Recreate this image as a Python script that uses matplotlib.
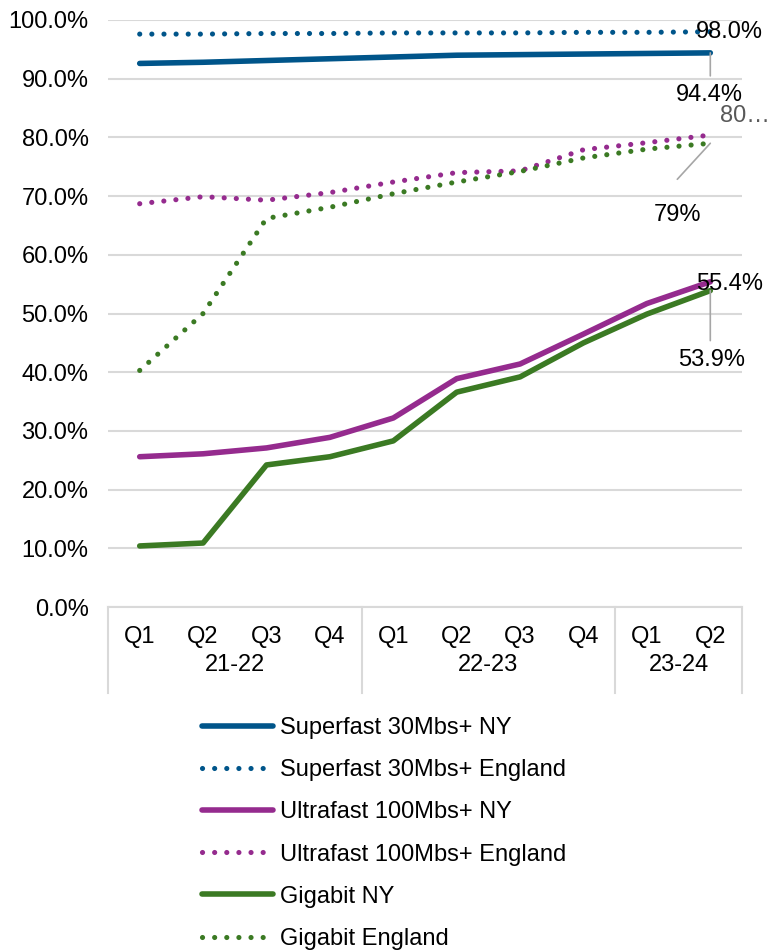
import matplotlib
matplotlib.use("Agg")
import matplotlib.pyplot as plt
import matplotlib.transforms as mtransforms

plt.rcParams["font.family"] = ["Liberation Sans", "DejaVu Sans"]
plt.rcParams["font.size"] = 17

# Quarterly coverage (%) by financial year
quarters = ["Q1", "Q2", "Q3", "Q4", "Q1", "Q2", "Q3", "Q4", "Q1", "Q2"]
years = ["21-22", "22-23", "23-24"]
quarters_per_year = [4, 4, 2]

superfast_ny = [92.6, 92.8, 93.1, 93.4, 93.7, 94.0, 94.1, 94.2, 94.3, 94.4]
superfast_eng = [97.6, 97.6, 97.7, 97.7, 97.8, 97.8, 97.8, 97.9, 97.9, 98.0]
ultrafast_ny = [25.6, 26.1, 27.1, 28.9, 32.2, 38.9, 41.4, 46.5, 51.7, 55.4]
ultrafast_eng = [68.7, 69.9, 69.3, 70.6, 72.4, 74.0, 74.3, 77.9, 79.1, 80.4]
gigabit_ny = [10.4, 10.9, 24.2, 25.6, 28.3, 36.6, 39.2, 45.0, 49.9, 53.9]
gigabit_eng = [40.3, 50.0, 66.2, 68.1, 70.4, 72.4, 74.2, 76.5, 78.0, 79.0]

BLUE = "#00558a"
PURPLE = "#952b8e"
GREEN = "#3b7a23"
GRID = "#d9d9d9"
LEADER = "#a6a6a6"

series = [
    ("Superfast 30Mbs+ NY", superfast_ny, BLUE, "solid"),
    ("Superfast 30Mbs+ England", superfast_eng, BLUE, "dot"),
    ("Ultrafast 100Mbs+ NY", ultrafast_ny, PURPLE, "solid"),
    ("Ultrafast 100Mbs+ England", ultrafast_eng, PURPLE, "dot"),
    ("Gigabit NY", gigabit_ny, GREEN, "solid"),
    ("Gigabit England", gigabit_eng, GREEN, "dot"),
]

fig = plt.figure(figsize=(7.7, 9.52), dpi=100)
ax = fig.add_axes([108 / 770, 1 - 607 / 952, 634 / 770, 587 / 952])

x = list(range(len(quarters)))
handles = []
for label, vals, color, style in series:
    y = [v / 100 for v in vals]
    if style == "solid":
        ln, = ax.plot(x, y, color=color, lw=4.0, solid_capstyle="round",
                      solid_joinstyle="round", label=label, zorder=3)
    else:
        ln, = ax.plot(x, y, color=color, lw=3.7, linestyle=(0, (0.01, 2.35)),
                      dash_capstyle="round", label=label, zorder=3)
    handles.append(ln)

ax.set_xlim(-0.5, len(quarters) - 0.5)
ax.set_ylim(0, 1.0)
ax.set_yticks([i / 10 for i in range(11)])
ax.set_yticklabels([f"{i * 10:.1f}%" for i in range(11)])
ax.yaxis.grid(True, color=GRID, lw=1.5)
ax.set_axisbelow(True)
ax.tick_params(axis="y", length=0, pad=14)
ax.set_xticks(x)
ax.set_xticklabels(quarters)
ax.tick_params(axis="x", length=0, pad=14)
for side in ("left", "right", "top"):
    ax.spines[side].set_visible(False)
ax.spines["bottom"].set_color(GRID)
ax.spines["bottom"].set_linewidth(1.5)

# Financial-year grouping under the quarter labels
blend = mtransforms.blended_transform_factory(ax.transData, ax.transAxes)
sep_depth = -86 / 587
start = -0.5
edges = [start]
for name, n in zip(years, quarters_per_year):
    ax.text(start + n / 2, -58 / 587, name, transform=blend,
            ha="center", va="center")
    start += n
    edges.append(start)
for e in edges:
    ax.plot([e, e], [0, sep_depth], transform=blend, color=GRID, lw=1.5,
            clip_on=False)

# End-of-series value labels
last = len(quarters) - 1


def leader(val, dx, dy):
    ax.annotate("", xy=(last, val / 100), xycoords="data",
                xytext=(dx, dy), textcoords="offset pixels",
                arrowprops=dict(arrowstyle="-", color=LEADER, lw=1.2,
                                shrinkA=0, shrinkB=0))


def value_label(val, text, dx, dy, ha="center", color="black"):
    ax.annotate(text, xy=(last, val / 100), xycoords="data",
                xytext=(dx, dy), textcoords="offset pixels",
                ha=ha, va="center", color=color, zorder=5)


value_label(superfast_eng[-1], f"{superfast_eng[-1]:.1f}%", 19, 0)
leader(superfast_ny[-1], 0, -23)
value_label(superfast_ny[-1], f"{superfast_ny[-1]:.1f}%", -1, -42)
value_label(ultrafast_eng[-1], f"{ultrafast_eng[-1]:.0f}"[:2] + "\u2026",
            10, 19, ha="left", color="#595959")
leader(gigabit_eng[-1], -33, -36)
value_label(gigabit_eng[-1], f"{gigabit_eng[-1]:.0f}%", -33, -72)
value_label(ultrafast_ny[-1], f"{ultrafast_ny[-1]:.1f}%", 19, -2)
leader(gigabit_ny[-1], 0, -50)
value_label(gigabit_ny[-1], f"{gigabit_ny[-1]:.1f}%", 1, -69)

fig.legend(handles=handles, loc="upper left",
           bbox_to_anchor=(202 / 770, 1 - 717 / 952),
           frameon=False, handlelength=3.0, handletextpad=0.3,
           labelspacing=0.855, borderpad=0, borderaxespad=0, fontsize=17)

fig.savefig("out.png", dpi=100)
